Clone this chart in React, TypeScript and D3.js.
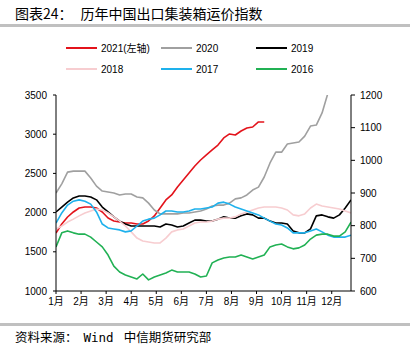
import * as d3 from "d3";

// 月份标签、坐标轴刻度
const months = ["1月", "2月", "3月", "4月", "5月", "6月", "7月", "8月", "9月", "10月", "11月", "12月"];
const leftTicks = [1000, 1500, 2000, 2500, 3000, 3500];
const rightTicks = [600, 700, 800, 900, 1000, 1100, 1200];

// 每周数据（第 0 周起）
const s2021 = [1740, 1855, 1944, 2008, 2059, 2071, 2071, 2059, 2008, 1931, 1893, 1880, 1867, 1867, 1855, 1855, 1893, 1957, 2059, 2161, 2225, 2327, 2416, 2505, 2594, 2671, 2735, 2799, 2862, 2952, 3003, 2990, 3041, 3079, 3092, 3156, 3156];
const s2020 = [900, 928, 964, 967, 967, 967, 946, 921, 906, 903, 900, 894, 897, 897, 888, 885, 869, 848, 836, 836, 836, 836, 839, 839, 842, 845, 851, 860, 863, 863, 869, 882, 885, 894, 909, 918, 949, 992, 1025, 1025, 1050, 1053, 1056, 1074, 1105, 1108, 1145, 1205];
const s2019 = [842, 857, 872, 885, 891, 891, 888, 879, 857, 842, 827, 814, 805, 799, 799, 799, 799, 799, 796, 805, 802, 796, 799, 808, 817, 817, 814, 814, 820, 827, 823, 823, 830, 836, 833, 823, 823, 814, 808, 808, 805, 784, 778, 778, 790, 830, 833, 827, 823, 833, 854, 879];
const s2018 = [790, 799, 811, 820, 830, 839, 845, 851, 848, 839, 827, 814, 799, 781, 762, 753, 750, 747, 747, 762, 781, 787, 790, 799, 808, 811, 811, 814, 820, 823, 823, 827, 836, 842, 848, 854, 857, 857, 857, 854, 848, 833, 830, 836, 854, 866, 860, 857, 854, 851, 845, 839];
const s2017 = [808, 839, 863, 875, 879, 875, 866, 842, 805, 793, 790, 787, 781, 784, 799, 814, 820, 823, 833, 845, 845, 842, 842, 845, 851, 851, 854, 857, 869, 872, 866, 857, 851, 845, 839, 833, 823, 814, 805, 802, 793, 778, 778, 778, 784, 790, 781, 771, 765, 765, 765, 771];
const s2016 = [735, 778, 784, 778, 774, 774, 765, 750, 735, 710, 676, 658, 649, 643, 637, 652, 634, 643, 649, 655, 664, 658, 658, 658, 652, 643, 646, 686, 695, 701, 704, 704, 710, 704, 698, 704, 710, 735, 741, 744, 735, 729, 732, 741, 759, 771, 774, 774, 768, 768, 781, 811];

const series = [
  { name: "2021(左轴)", data: s2021, color: "#e3131b", axis: "left" },
  { name: "2020", data: s2020, color: "#a0a0a0", axis: "right" },
  { name: "2019", data: s2019, color: "#000000", axis: "right" },
  { name: "2018", data: s2018, color: "#f7cdd0", axis: "right" },
  { name: "2017", data: s2017, color: "#1eb1ec", axis: "right" },
  { name: "2016", data: s2016, color: "#21b154", axis: "right" },
];

const font = "'Liberation Sans', 'Noto Sans CJK SC', sans-serif";
const cjk = "'Noto Sans CJK SC', sans-serif";

export default function App() {
  const left = 56;
  const right = 351;
  const top = 95;
  const bottom = 291;

  const x = d3.scaleLinear().domain([0, 51]).range([left, right]);
  const yL = d3.scaleLinear().domain([1000, 3500]).range([bottom, top]);
  const yR = d3.scaleLinear().domain([600, 1200]).range([bottom, top]);

  const monthX = months.map((_, i) => x((i * 52) / 12));

  const paths = series.map((s) => {
    const y = s.axis === "left" ? yL : yR;
    const line = d3
      .line<number>()
      .x((_, i) => x(i))
      .y((d) => y(d));
    return line(s.data) || "";
  });

  // 图例位置
  const legendCols = [66, 161, 256];
  const legendRows = [48, 69];

  return (
    <svg width={410} height={359} style={{ position: "absolute", left: 0, top: 0, background: "#fff" }}>
      <text x={15} y={19} fontSize={14} fontFamily={cjk} fill="#000">
        图表24：<tspan dx={8}>历年中国出口集装箱运价指数</tspan>
      </text>
      <rect x={0} y={24} width={410} height={3} fill="#c0c0c0" />

      {series.map((s, i) => {
        const cx = legendCols[i % 3];
        const cy = legendRows[Math.floor(i / 3)];
        return (
          <g key={s.name}>
            <line x1={cx} x2={cx + 31} y1={cy} y2={cy} stroke={s.color} strokeWidth={2} />
            <text x={cx + 35} y={cy + 3.5} fontSize={10} fontFamily={font} fill="#000">
              {s.name}
            </text>
          </g>
        );
      })}

      <defs>
        <clipPath id="plot">
          <rect x={left} y={top} width={right - left} height={bottom - top} />
        </clipPath>
      </defs>

      <g clipPath="url(#plot)">
        {series.map((s, i) => (
          <path key={s.name} d={paths[i]} fill="none" stroke={s.color} strokeWidth={1.6} strokeLinejoin="round" />
        ))}
      </g>

      {/* 左轴 */}
      <line x1={left} x2={left} y1={top} y2={bottom} stroke="#000" strokeWidth={1} />
      {leftTicks.map((t) => (
        <g key={t}>
          <line x1={left - 3} x2={left} y1={yL(t)} y2={yL(t)} stroke="#000" />
          <text x={47} y={yL(t) + 3.5} fontSize={10} fontFamily={font} textAnchor="end">
            {t}
          </text>
        </g>
      ))}

      {/* 右轴 */}
      <line x1={right} x2={right} y1={top} y2={bottom} stroke="#000" strokeWidth={1} />
      {rightTicks.map((t) => (
        <g key={t}>
          <line x1={right} x2={right + 4} y1={yR(t)} y2={yR(t)} stroke="#000" />
          <text x={360} y={yR(t) + 3.5} fontSize={10} fontFamily={font}>
            {t}
          </text>
        </g>
      ))}

      {/* 横轴 */}
      <line x1={left} x2={right} y1={bottom} y2={bottom} stroke="#000" strokeWidth={1} />
      {months.map((m, i) => (
        <g key={m}>
          <line x1={monthX[i]} x2={monthX[i]} y1={bottom} y2={bottom + 3} stroke="#000" />
          <text x={monthX[i]} y={bottom + 14} fontSize={10} fontFamily={font} textAnchor="middle">
            {m}
          </text>
        </g>
      ))}

      <rect x={0} y={323} width={410} height={3} fill="#c0c0c0" />
      <text x={15} y={342} fontSize={12.5} fontFamily={cjk} fill="#000">
        资料来源：<tspan dx={6} fontFamily="'DejaVu Sans Mono', monospace">Wind</tspan>
        <tspan dx={10}>中信期货研究部</tspan>
      </text>
    </svg>
  );
}
